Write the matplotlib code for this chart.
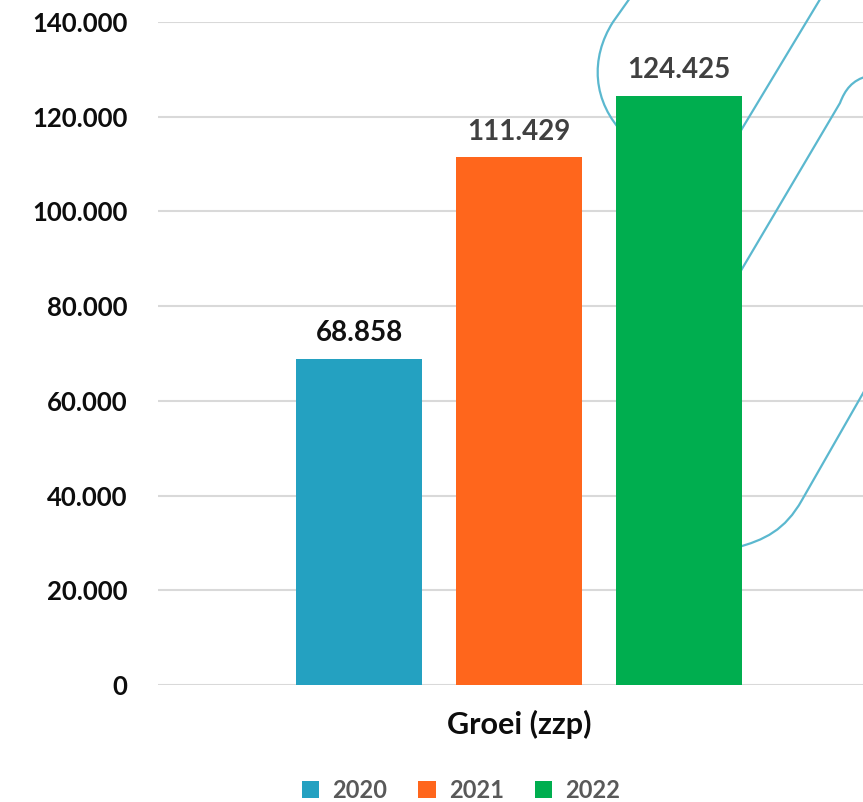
import matplotlib
matplotlib.use("Agg")
import matplotlib.pyplot as plt
from matplotlib.path import Path
from matplotlib.patches import PathPatch

W, H = 863, 802

category = "Groei (zzp)"
years = ["2020", "2021", "2022"]
values = [68858, 111429, 124425]
colors = ["#24A1C1", "#FF661C", "#00AE4F"]
label_colors = ["#111111", "#404040", "#404040"]
yticks = [0, 20000, 40000, 60000, 80000, 100000, 120000, 140000]


def dotted(v):
    return f"{v:,}".replace(",", ".")


plt.rcParams["font.family"] = ["Lato", "DejaVu Sans"]

fig = plt.figure(figsize=(W / 100, H / 100), dpi=100)
# plot area runs past the right edge of the picture (cropped chart)
left, right, top, bottom = 158, 880, 22, 685
ax = fig.add_axes([left / W, 1 - bottom / H, (right - left) / W, (bottom - top) / H])
ax.patch.set_visible(False)

step = 160.0
xs = [(i - 1) for i in range(len(years))]
bars = []
for x, v, c, lc, lab in zip(xs, values, colors, label_colors, years):
    b = ax.bar(x, v, width=126 / step, color=c, label=lab, zorder=3)
    bars.append(b)
    ax.bar_label(b, labels=[dotted(v)], padding=9, fontsize=20, fontweight="bold",
                 color=lc)

half = (right - left) / 2 / step
ax.set_xlim(-half, half)
ax.set_ylim(0, 140000)
ax.set_yticks(yticks)
ax.set_yticklabels([dotted(t) for t in yticks], fontsize=18.5, fontweight="bold",
                   color="#0d0d0d")
ax.set_xticks([0])
ax.set_xticklabels([category], fontsize=22, fontweight="bold", color="#0d0d0d")
ax.tick_params(axis="y", length=0, pad=22)
ax.tick_params(axis="x", length=0, pad=18)
ax.grid(axis="y", color="#D9D9D9", linewidth=1.5, zorder=0)
ax.set_axisbelow(True)
for s in ax.spines.values():
    s.set_visible(False)

# decorative teal strokes behind the bars (pixel coords, y down)
def deco(verts, codes):
    pts = [(x / W, 1 - y / H) for x, y in verts]
    p = PathPatch(Path(pts, codes), transform=fig.transFigure, fill=False,
                  edgecolor="#5BB8CF", linewidth=1.6, zorder=1.5, clip_on=False)
    ax.add_patch(p)


M, L, C = Path.MOVETO, Path.LINETO, Path.CURVE4
deco([(630, -2), (613, 22), (590, 58), (592, 102), (625, 135)], [M, L, C, C, C])
deco([(822, -4), (690, 215)], [M, L])
deco([(868, 76), (852, 80), (845, 90), (840, 103), (700, 340)], [M, C, C, C, L])
deco([(866, 388), (802, 500), (785, 530), (765, 540), (735, 548)], [M, L, C, C, C])

leg = fig.legend(handles=[b[0] for b in bars], labels=years, loc="center",
                 bbox_to_anchor=(461 / W, 1 - 790 / H), ncol=3, frameon=False,
                 handlelength=0.75, handleheight=0.75, handletextpad=0.55,
                 columnspacing=1.3, prop={"size": 17, "weight": "bold"})
for t in leg.get_texts():
    t.set_color("#595959")

fig.savefig("out.png", dpi=100)
